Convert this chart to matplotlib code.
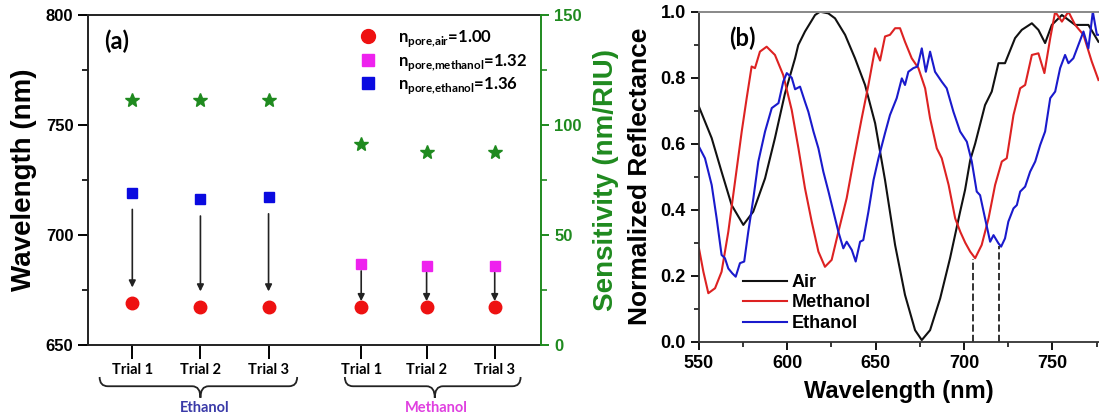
import matplotlib
matplotlib.use("Agg")
import matplotlib.pyplot as plt
from matplotlib.lines import Line2D
from matplotlib.path import Path
from matplotlib.patches import PathPatch

plt.rcParams["font.family"] = ["Liberation Sans", "DejaVu Sans"]
plt.rcParams["mathtext.fontset"] = "custom"
plt.rcParams["mathtext.rm"] = "Lato"
plt.rcParams["mathtext.bf"] = "Lato:bold"

# ---- panel (a) data ----
trial_labels = ["Trial 1", "Trial 2", "Trial 3", "Trial 1", "Trial 2", "Trial 3"]
trial_pos = [1, 2, 3, 4.36, 5.32, 6.32]
groups = ["Ethanol", "Methanol"]
wl_air = [669.2, 667.4, 667.4, 667.4, 667.4, 667.4]
wl_ethanol = [719.2, 716.2, 717.2]
wl_methanol = [686.8, 686.0, 686.0]
sensitivity = [111.3, 111.3, 111.3, 91.2, 87.8, 87.8]

# ---- panel (b) data ----
air_wl = [550, 557.2, 562.8, 568.5, 575.1, 580.7, 587.4, 593, 598.7, 604.4, 606.2, 610,
          615.7, 618.5, 623.2, 627, 632.7, 638.3, 644, 649.7, 655.3, 661, 666.6, 672.3,
          676.1, 680.8, 686.5, 692.1, 697.8, 700.6, 703.5, 706.3, 711.9, 715.7, 719.5,
          723.2, 728.9, 732.7, 738.4, 742.1, 745.9, 749.7, 755.4, 762.9, 770.4, 776.1]
air_r = [0.712, 0.617, 0.515, 0.414, 0.354, 0.394, 0.495, 0.617, 0.753, 0.859, 0.899, 0.94,
         0.99, 1.0, 0.995, 0.98, 0.93, 0.859, 0.778, 0.662, 0.49, 0.293, 0.142, 0.035,
         0.005, 0.035, 0.131, 0.253, 0.394, 0.46, 0.55, 0.6, 0.717, 0.758, 0.844,
         0.844, 0.92, 0.945, 0.965, 0.945, 0.905, 0.96, 0.99, 0.96, 0.96, 0.909]

meth_wl = [550, 552.5, 555.3, 559.1, 562.8, 566.6, 570.4, 574.2, 577, 579.8, 581.7, 584.5,
           588.3, 593, 597.7, 602.5, 606.3, 610, 613.8, 617.6, 621.3, 625.1, 628.9, 633.6,
           637.4, 642.1, 645.9, 649.7, 652.5, 655.3, 658.1, 661, 663.8, 666.6, 670.4, 674.2,
           678, 680.8, 684.6, 687.4, 691.3, 695, 697.9, 700.7, 703.5, 706.3, 710, 713.9,
           717.6, 721.4, 724.2, 728, 731.8, 734.6, 738.4, 742.1, 745.5, 748.8, 751.6, 755.4,
           759.1, 762.9, 767.6, 772.3, 776.1]
meth_r = [0.283, 0.212, 0.147, 0.162, 0.212, 0.333, 0.485, 0.637, 0.738, 0.834, 0.829, 0.879,
          0.894, 0.869, 0.808, 0.702, 0.586, 0.465, 0.364, 0.273, 0.227, 0.248, 0.333, 0.435,
          0.546, 0.677, 0.778, 0.889, 0.852, 0.925, 0.93, 0.95, 0.95, 0.909, 0.859, 0.829,
          0.768, 0.677, 0.586, 0.556, 0.475, 0.374, 0.333, 0.3, 0.273, 0.253, 0.293, 0.374,
          0.475, 0.546, 0.556, 0.687, 0.768, 0.778, 0.869, 0.874, 0.814, 0.92, 1.0, 0.97,
          1.0, 0.96, 0.93, 0.849, 0.793]

eth_wl = [550, 553.4, 557.2, 560, 562.8, 564.7, 566.6, 568.9, 570.8, 573.2, 575.6, 577.9,
          580.8, 583.6, 587.4, 591.2, 595, 597.7, 599.7, 602.5, 604.4, 607.2, 610, 611.9,
          614.8, 617.6, 620.4, 623.3, 626.1, 628.9, 631.7, 633.6, 636.5, 638.7, 641.2, 643,
          645.9, 648.8, 651.6, 655.3, 658.1, 661.9, 664.8, 666.6, 668.5, 671.3, 673.7, 676.1,
          678.4, 680.8, 683.6, 687.4, 690.2, 694, 697.8, 701.6, 704.4, 707.2, 709.1, 711.9,
          714.8, 716.7, 719.5, 721, 723.2, 725.1, 728, 729.9, 731.8, 734.6, 737.4, 740.3,
          743.1, 745.9, 748.8, 751.6, 754.4, 757.2, 759.1, 761.9, 767.6, 770.4, 772.9, 775.2,
          776.1]
eth_r = [0.591, 0.556, 0.475, 0.374, 0.263, 0.253, 0.222, 0.207, 0.197, 0.238, 0.243, 0.333,
         0.435, 0.546, 0.637, 0.708, 0.723, 0.788, 0.814, 0.8, 0.765, 0.773, 0.727, 0.697,
         0.637, 0.586, 0.515, 0.455, 0.394, 0.333, 0.283, 0.303, 0.278, 0.243, 0.303, 0.308,
         0.394, 0.49, 0.556, 0.632, 0.687, 0.738, 0.798, 0.778, 0.818, 0.829, 0.834, 0.889,
         0.818, 0.879, 0.818, 0.788, 0.768, 0.697, 0.637, 0.606, 0.546, 0.455, 0.444, 0.374,
         0.303, 0.323, 0.298, 0.288, 0.313, 0.364, 0.404, 0.414, 0.455, 0.47, 0.515, 0.546,
         0.596, 0.637, 0.738, 0.758, 0.829, 0.869, 0.844, 0.859, 0.94, 0.889, 1.0, 0.93,
         0.93]
dip_methanol = 705
dip_ethanol = 720
dip_methanol_r = 0.25
dip_ethanol_r = 0.29

GREEN = "#1f8a1f"
TEXT_FONT = ["Lato", "DejaVu Sans"]


def draw_brace(ax, x0, x1, xc, y_top, y_mid, y_tip, r):
    verts = [(x0, y_top), (x0, y_mid), (x0 + r, y_mid),
             (xc - r, y_mid), (xc, y_mid), (xc, y_tip),
             (xc, y_mid), (xc + r, y_mid),
             (x1 - r, y_mid), (x1, y_mid), (x1, y_top)]
    codes = [Path.MOVETO, Path.CURVE3, Path.CURVE3,
             Path.LINETO, Path.CURVE3, Path.CURVE3,
             Path.CURVE3, Path.CURVE3,
             Path.LINETO, Path.CURVE3, Path.CURVE3]
    patch = PathPatch(Path(verts, codes), transform=ax.get_xaxis_transform(),
                      fill=False, lw=1.3, color="#222222", clip_on=False)
    ax.add_patch(patch)


fig = plt.figure(figsize=(10.99, 4.2), dpi=100)

# ================= panel (a) =================
ax = fig.add_axes([0.0801, 0.1786, 0.4122, 0.7857])
ax.set_xlim(0.35, 7.0)
ax.set_ylim(650, 800)

ax.plot(trial_pos, wl_air, "o", color="#ee1111", ms=9, zorder=3)
ax.plot(trial_pos[:3], wl_ethanol, "s", color="#0a0ae0", ms=7.5, zorder=3)
ax.plot(trial_pos[3:], wl_methanol, "s", color="#ee22ee", ms=7.5, zorder=3)

for i in range(3):
    ax.annotate("", xy=(trial_pos[i], wl_air[i]), xytext=(trial_pos[i], wl_ethanol[i]),
                arrowprops=dict(arrowstyle="-|>", color="#222222", lw=1.2,
                                shrinkA=12, shrinkB=11, mutation_scale=10))
    ax.annotate("", xy=(trial_pos[i + 3], wl_air[i + 3]), xytext=(trial_pos[i + 3], wl_methanol[i]),
                arrowprops=dict(arrowstyle="-|>", color="#222222", lw=1.2,
                                shrinkA=5, shrinkB=4, mutation_scale=10))

ax.set_xticks(trial_pos)
ax.set_xticklabels(trial_labels, fontsize=10.5, fontweight="bold", family=TEXT_FONT)
ax.set_yticks([650, 700, 750, 800])
ax.set_yticks([675, 725, 775], minor=True)
ax.tick_params(axis="x", direction="out", length=10, width=1.4, pad=3)
ax.tick_params(axis="y", which="major", direction="out", length=7, width=1.4, labelsize=12)
ax.tick_params(axis="y", which="minor", direction="out", length=4, width=1.2)
for lab in ax.get_yticklabels():
    lab.set_fontweight("bold")
ax.set_ylabel("Wavelength (nm)", fontsize=20, fontweight="bold", labelpad=6)
for s in ["left", "bottom", "top"]:
    ax.spines[s].set_linewidth(1.4)
    ax.spines[s].set_color("#222222")
ax.spines["right"].set_visible(False)

ax.text(0.035, 0.955, "(a)", transform=ax.transAxes, fontsize=17, fontweight="bold",
        family=TEXT_FONT, va="top")

# group braces and labels
draw_brace(ax, 0.52, 3.42, 2.0, -0.097, -0.125, -0.16, 0.12)
draw_brace(ax, 4.12, 6.70, 5.44, -0.097, -0.125, -0.16, 0.12)
ax.text(2.06, -0.19, groups[0], transform=ax.get_xaxis_transform(), ha="center", va="center",
        fontsize=10.5, fontweight="bold", color="#3a3aa8", family=TEXT_FONT)
ax.text(5.47, -0.19, groups[1], transform=ax.get_xaxis_transform(), ha="center", va="center",
        fontsize=10.5, fontweight="bold", color="#e040e0", family=TEXT_FONT)

handles = [
    Line2D([], [], ls="none", marker="o", color="#ee1111", ms=10),
    Line2D([], [], ls="none", marker="s", color="#ee22ee", ms=8),
    Line2D([], [], ls="none", marker="s", color="#0a0ae0", ms=8),
]
labels = [r"$\mathbf{n}_{\mathbf{pore{,}air}}$=1.00",
          r"$\mathbf{n}_{\mathbf{pore{,}methanol}}$=1.32",
          r"$\mathbf{n}_{\mathbf{pore{,}ethanol}}$=1.36"]
leg = ax.legend(handles, labels, loc="upper right", bbox_to_anchor=(1.0, 1.0), frameon=False,
                prop={"family": TEXT_FONT, "weight": "bold", "size": 12},
                handletextpad=0.8, labelspacing=0.15, borderaxespad=0.4)

axr = ax.twinx()
axr.set_ylim(0, 150)
axr.plot(trial_pos, sensitivity, "*", color=GREEN, ms=10, zorder=3)
axr.set_yticks([0, 50, 100, 150])
axr.set_yticks([25, 75, 125], minor=True)
axr.tick_params(axis="y", which="major", direction="out", length=6, width=1.4,
                colors=GREEN, labelsize=12)
axr.tick_params(axis="y", which="minor", direction="out", length=4, width=1.2, colors=GREEN)
for lab in axr.get_yticklabels():
    lab.set_fontweight("bold")
axr.set_ylabel("Sensitivity (nm/RIU)", fontsize=20, fontweight="bold", color=GREEN, labelpad=8)
axr.spines["right"].set_color(GREEN)
axr.spines["right"].set_linewidth(1.4)
for s in ["left", "top", "bottom"]:
    axr.spines[s].set_visible(False)

# ================= panel (b) =================
bx = fig.add_axes([0.636, 0.1864, 0.364, 0.7857])
bx.plot(air_wl, air_r, color="#111111", lw=1.5, label="Air")
bx.plot(meth_wl, meth_r, color="#dd2222", lw=1.5, label="Methanol")
bx.plot(eth_wl, eth_r, color="#1a1acc", lw=1.5, label="Ethanol")
bx.plot([dip_methanol, dip_methanol], [0, dip_methanol_r], ls="--", color="#333333", lw=1.4)
bx.plot([dip_ethanol, dip_ethanol], [0, dip_ethanol_r], ls="--", color="#333333", lw=1.4)
bx.set_xlim(550, 776.4)
bx.set_ylim(0, 1.0)
bx.set_xticks([550, 600, 650, 700, 750])
bx.set_xticks([575, 625, 675, 725, 775], minor=True)
bx.set_yticks([0.0, 0.2, 0.4, 0.6, 0.8, 1.0])
bx.set_yticks([0.1, 0.3, 0.5, 0.7, 0.9], minor=True)
bx.set_yticklabels(["0.0", "0.2", "0.4", "0.6", "0.8", "1.0"])
bx.tick_params(which="major", direction="out", length=6, width=1.3, labelsize=13)
bx.tick_params(which="minor", direction="out", length=3.5, width=1.1)
for lab in bx.get_xticklabels() + bx.get_yticklabels():
    lab.set_fontweight("bold")
bx.set_xlabel("Wavelength (nm)", fontsize=17, fontweight="bold", labelpad=6)
bx.set_ylabel("Normalized Reflectance", fontsize=19, fontweight="bold", labelpad=6)
bx.spines["right"].set_visible(False)
bx.spines["top"].set_color("#888888")
bx.spines["top"].set_linewidth(1.4)
bx.spines["left"].set_color("#333333")
bx.spines["bottom"].set_color("#333333")
bx.spines["left"].set_linewidth(1.3)
bx.spines["bottom"].set_linewidth(1.3)
bx.text(0.075, 0.955, "(b)", transform=bx.transAxes, fontsize=17, fontweight="bold",
        family=TEXT_FONT, va="top")
bx.legend(loc="lower left", bbox_to_anchor=(0.07, -0.02), frameon=False,
          prop={"weight": "bold", "size": 13}, handlelength=2.4, handletextpad=0.3,
          labelspacing=0.2)

fig.savefig("out.png", dpi=100)
